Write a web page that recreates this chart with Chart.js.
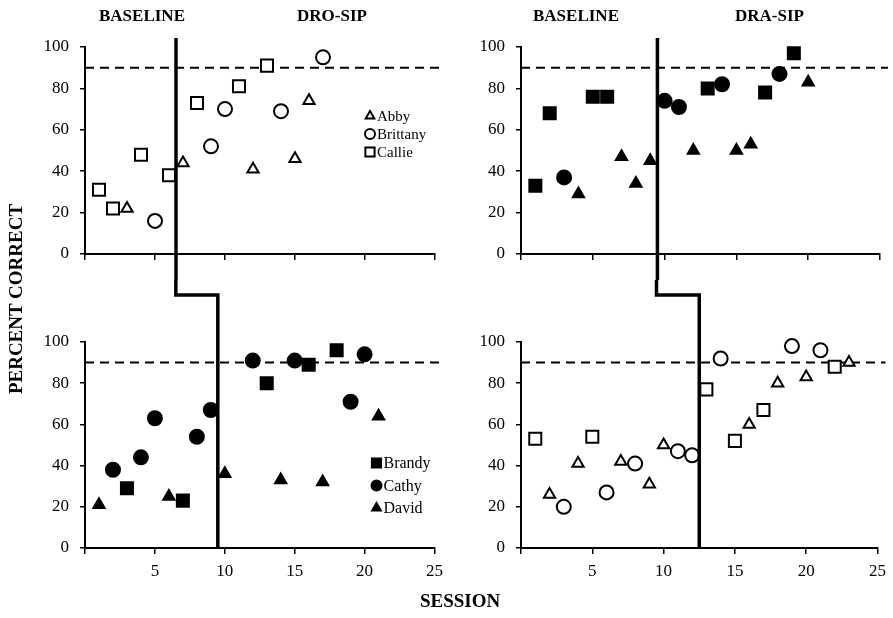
<!DOCTYPE html>
<html>
<head>
<meta charset="utf-8">
<script src="https://cdn.jsdelivr.net/npm/chart.js@4/dist/chart.umd.min.js"></script>
<style>
  body { margin: 0; background: #fff; }
  #wrap { position: relative; width: 893px; height: 618px; overflow: hidden; font-family: "Liberation Serif", "Times New Roman", serif; }
  canvas { position: absolute; }
  .lbl { position: absolute; font-weight: bold; font-size: 17px; color: #000; white-space: nowrap; }
</style>
</head>
<body>
<div id="wrap">
  <canvas id="tl" width="450" height="280" style="left:0;top:0"></canvas>
  <canvas id="tr" width="443" height="280" style="left:450px;top:0"></canvas>
  <canvas id="bl" width="450" height="318" style="left:0;top:280px"></canvas>
  <canvas id="br" width="443" height="318" style="left:450px;top:280px"></canvas>
  <div class="lbl" style="left:99px;top:6px">BASELINE</div>
  <div class="lbl" style="left:297px;top:6px">DRO-SIP</div>
  <div class="lbl" style="left:533px;top:6px">BASELINE</div>
  <div class="lbl" style="left:735px;top:6px">DRA-SIP</div>
  <div class="lbl" style="left:420px;top:590px;font-size:19px">SESSION</div>
  <div class="lbl" style="left:-84px;top:288px;transform:rotate(-90deg);transform-origin:center;width:200px;text-align:center;font-size:19px">PERCENT CORRECT</div>
</div>
<script>
// sessions / percent correct
const sessionTicks = [0, 5, 10, 15, 20, 25];
const mastery = 90;

// DRO-SIP group (top left)
const abbyDroSessions = [3, 7, 12, 15, 16];
const abbyDroValues = [22, 44, 41, 46, 74];
const brittanyDroSessions = [5, 9, 10, 14, 17];
const brittanyDroValues = [16, 52, 70, 69, 95];
const callieDroSessions = [1, 2, 4, 6, 8, 11, 13];
const callieDroValues = [31, 22, 48, 38, 73, 81, 91];

// DRA-SIP group (top right)
const brandyDraSessions = [1, 2, 5, 6, 13, 17, 19];
const brandyDraValues = [33, 68, 76, 76, 80, 78, 97];
const cathyDraSessions = [3, 10, 11, 14, 18];
const cathyDraValues = [37, 74, 71, 82, 87];
const davidDraSessions = [4, 7, 8, 9, 12, 15, 16, 20];
const davidDraValues = [29, 47, 34, 45, 50, 50, 53, 83];

// DRO-SIP group (bottom left)
const brandyDroSessions = [3, 7, 13, 16, 18];
const brandyDroValues = [29, 23, 80, 89, 96];
const cathyDroSessions = [2, 4, 5, 8, 9, 12, 15, 19, 20];
const cathyDroValues = [38, 44, 63, 54, 67, 91, 91, 71, 94];
const davidDroSessions = [1, 6, 10, 14, 17, 21];
const davidDroValues = [21, 25, 36, 33, 32, 64];

// DRA-SIP group (bottom right)
const abbyDraSessions = [2, 4, 7, 9, 10, 16, 18, 20, 23];
const abbyDraValues = [26, 41, 42, 31, 50, 60, 80, 83, 90];
const brittanyDraSessions = [3, 6, 8, 11, 12, 14, 19, 21];
const brittanyDraValues = [20, 27, 41, 47, 45, 92, 98, 96];
const callieDraSessions = [1, 5, 13, 15, 17, 22];
const callieDraValues = [53, 54, 77, 52, 67, 88];

// phase change lines (session between baseline and treatment)
const leftPhase = [6.5, 9.5];
const rightPhase = [9.5, 12.5];

const FONT = "'Liberation Serif', 'Times New Roman', serif";
const markerRadius = { triangle: 6.5, rect: 8.5, circle: 7 };
const legendRadius = { triangle: 5, rect: 6.5, circle: 5 };

function pts(xs, ys) {
  return xs.map((x, i) => ({ x: x, y: ys[i] }));
}

function ds(label, xs, ys, style, filled) {
  return {
    label: label,
    data: pts(xs, ys),
    pointStyle: style,
    pointRadius: markerRadius[style],
    pointBackgroundColor: filled ? '#000' : '#fff',
    pointBorderColor: '#000',
    pointBorderWidth: 2,
    showLine: false,
    clip: false,
  };
}

const masteryLine = {
  id: 'mastery',
  beforeDatasetsDraw(chart) {
    const { ctx, chartArea, scales } = chart;
    const y = scales.y.getPixelForValue(mastery);
    ctx.save();
    ctx.strokeStyle = '#000';
    ctx.lineWidth = 2;
    ctx.setLineDash([9, 6]);
    ctx.beginPath();
    ctx.moveTo(chartArea.left, y);
    ctx.lineTo(chartArea.right + 8, y);
    ctx.stroke();
    ctx.restore();
  }
};

function phasePlugin(phase, isTop) {
  return {
    id: 'phase',
    afterDatasetsDraw(chart) {
      const { ctx, chartArea, scales } = chart;
      const xa = scales.x.getPixelForValue(phase[0]);
      const xb = scales.x.getPixelForValue(phase[1]);
      ctx.save();
      ctx.strokeStyle = '#000';
      ctx.lineWidth = 3.5;
      ctx.lineJoin = 'miter';
      ctx.beginPath();
      if (isTop) {
        ctx.moveTo(xa, chartArea.top - 9);
        ctx.lineTo(xa, chart.height);
      } else {
        ctx.moveTo(xa, 0);
        ctx.lineTo(xa, 15);
        ctx.lineTo(xb, 15);
        ctx.lineTo(xb, chartArea.bottom);
      }
      ctx.stroke();
      ctx.restore();
    }
  };
}

function legendPlugin(dx, dy, gap, size) {
  return {
    id: 'ownLegend',
    afterDraw(chart) {
      const { ctx, chartArea } = chart;
      ctx.save();
      ctx.font = size + 'px ' + FONT;
      ctx.textBaseline = 'middle';
      chart.data.datasets.forEach((d, i) => {
        const x = chartArea.right - dx;
        const y = chartArea.top + dy + i * gap;
        ctx.fillStyle = d.pointBackgroundColor;
        ctx.strokeStyle = '#000';
        ctx.lineWidth = 2;
        Chart.helpers.drawPoint(ctx, { pointStyle: d.pointStyle, radius: legendRadius[d.pointStyle], rotation: 0, borderWidth: 2 }, x, y);
        ctx.fillStyle = '#000';
        ctx.fillText(d.label, x + 7, y + 1);
      });
      ctx.restore();
    }
  };
}

function makePanel(id, datasets, cfg) {
  const plugins = [masteryLine, phasePlugin(cfg.phase, cfg.top)];
  if (cfg.legend) plugins.push(legendPlugin.apply(null, cfg.legend));
  new Chart(document.getElementById(id), {
    type: 'scatter',
    data: { datasets: datasets },
    options: {
      responsive: false,
      animation: false,
      layout: { padding: { left: 0, top: cfg.padTop, right: cfg.padRight, bottom: 0 } },
      plugins: { legend: { display: false }, tooltip: { enabled: false } },
      scales: {
        x: {
          type: 'linear',
          min: 0,
          max: 25,
          afterBuildTicks: (s) => { s.ticks = sessionTicks.map(v => ({ value: v })); },
          afterFit: (s) => { s.height = cfg.xHeight; },
          grid: { drawOnChartArea: false, drawTicks: true, tickLength: 6, color: '#000', lineWidth: 1.5 },
          border: { color: '#000', width: 2 },
          ticks: {
            color: '#000',
            font: { family: FONT, size: 17 },
            padding: 7,
            maxRotation: 0,
            callback: (v) => (cfg.top || v === 0) ? '' : v,
          },
        },
        y: {
          min: 0,
          max: 100,
          afterFit: (s) => { s.width = cfg.yWidth; },
          grid: { drawOnChartArea: false, drawTicks: true, tickLength: 5, color: '#000', lineWidth: 1.5 },
          border: { color: '#000', width: 2 },
          ticks: { stepSize: 20, color: '#000', font: { family: FONT, size: 17 }, padding: 11 },
        },
      },
    },
    plugins: plugins,
  });
}

makePanel('tl', [
  ds('Abby', abbyDroSessions, abbyDroValues, 'triangle', false),
  ds('Brittany', brittanyDroSessions, brittanyDroValues, 'circle', false),
  ds('Callie', callieDroSessions, callieDroValues, 'rect', false),
], { top: true, phase: leftPhase, padTop: 47, padRight: 15, yWidth: 85, xHeight: 26, legend: [65, 69, 18, 15] });

makePanel('tr', [
  ds('Brandy', brandyDraSessions, brandyDraValues, 'rect', true),
  ds('Cathy', cathyDraSessions, cathyDraValues, 'circle', true),
  ds('David', davidDraSessions, davidDraValues, 'triangle', true),
], { top: true, phase: rightPhase, padTop: 47, padRight: 13, yWidth: 71, xHeight: 26 });

makePanel('bl', [
  ds('Brandy', brandyDroSessions, brandyDroValues, 'rect', true),
  ds('Cathy', cathyDroSessions, cathyDroValues, 'circle', true),
  ds('David', davidDroSessions, davidDroValues, 'triangle', true),
], { top: false, phase: leftPhase, padTop: 62, padRight: 15, yWidth: 85, xHeight: 50, legend: [58, 121, 22.5, 16] });

makePanel('br', [
  ds('Abby', abbyDraSessions, abbyDraValues, 'triangle', false),
  ds('Brittany', brittanyDraSessions, brittanyDraValues, 'circle', false),
  ds('Callie', callieDraSessions, callieDraValues, 'rect', false),
], { top: false, phase: rightPhase, padTop: 62, padRight: 13, yWidth: 71, xHeight: 50 });
</script>
</body>
</html>
